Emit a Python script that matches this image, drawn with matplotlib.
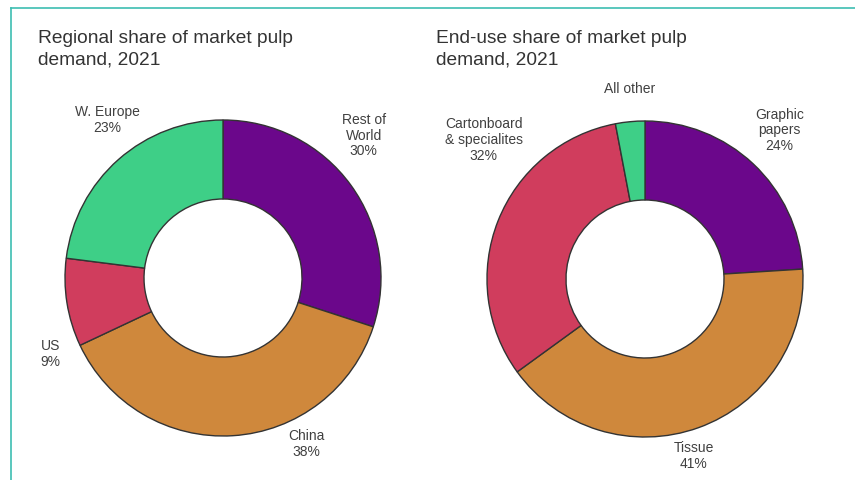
import matplotlib.pyplot as plt
from matplotlib.lines import Line2D

plt.rcParams['font.family'] = ['Liberation Sans', 'DejaVu Sans']

# Regional split of market pulp demand, 2021 (%)
region_names = ["Rest of\nWorld", "China", "US", "W. Europe"]
region_share = [30, 38, 9, 23]

# End-use split of market pulp demand, 2021 (%)
enduse_names = ["Graphic\npapers", "Tissue", "Cartonboard\n& specialites", "All other"]
enduse_share = [24, 41, 32, 3]

colors = ["#6b078b", "#cf883c", "#d03d5d", "#3ecf87"]
text_color = "#404040"

# label offsets from the donut centre, in units of outer radius
region_label_pos = [(0.89, 0.90), (0.53, -1.05), (-1.09, -0.48), (-0.73, 1.00)]
enduse_label_pos = [(0.85, 0.94), (0.31, -1.12), (-1.02, 0.88), (-0.10, 1.20)]

W, H = 855, 480
R_OUT, R_IN = 158, 79


def draw_donut(ax, center, names, shares, label_pos, show_pct):
    ax.pie(shares, colors=colors, startangle=90, counterclock=False,
           center=center, radius=R_OUT,
           wedgeprops=dict(width=R_OUT - R_IN, edgecolor="#333333", linewidth=1.0))
    for name, val, (lx, ly), pct in zip(names, shares, label_pos, show_pct):
        txt = f"{name}\n{val}%" if pct else name
        ax.text(center[0] + lx * R_OUT, center[1] + ly * R_OUT, txt,
                ha="center", va="center", fontsize=10, color=text_color,
                linespacing=1.15)


fig = plt.figure(figsize=(W / 100, H / 100), dpi=100)
ax = fig.add_axes([0, 0, 1, 1])

draw_donut(ax, (223, 202), region_names, region_share, region_label_pos,
           [True] * 4)
draw_donut(ax, (645, 201), enduse_names, enduse_share, enduse_label_pos,
           [True, True, True, False])

# pie() resets the limits, so fix the pixel-sized canvas afterwards
ax.set_xlim(0, W)
ax.set_ylim(0, H)
ax.set_aspect("equal")
ax.axis("off")

ax.text(38, H - 30, "Regional share of market pulp\ndemand, 2021",
        ha="left", va="top", fontsize=13.8, color="#333333", linespacing=1.36)
ax.text(436, H - 30, "End-use share of market pulp\ndemand, 2021",
        ha="left", va="top", fontsize=13.8, color="#333333", linespacing=1.36)

# teal panel frame (left and top edges)
frame = "#3dbdb1"
ax.add_line(Line2D([11, 11], [0, H - 8], color=frame, linewidth=1.2))
ax.add_line(Line2D([11, W], [H - 8, H - 8], color=frame, linewidth=1.2))

fig.savefig("out.png", dpi=100)
